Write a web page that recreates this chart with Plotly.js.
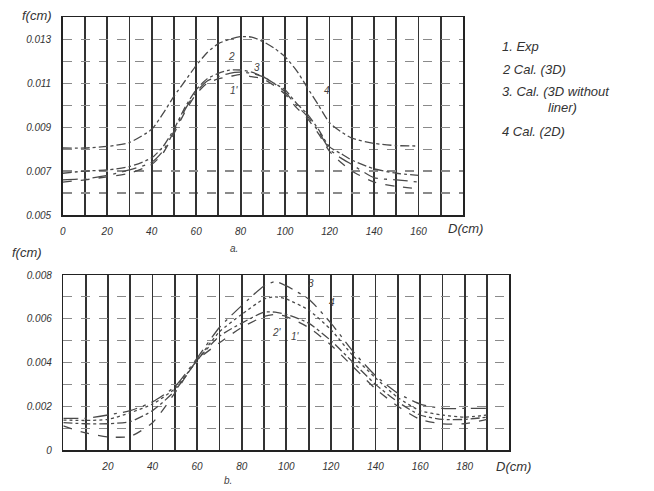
<!DOCTYPE html>
<html>
<head>
<meta charset="utf-8">
<script src="https://cdn.plot.ly/plotly-3.0.1.min.js"></script>
<style>
html,body{margin:0;padding:0;background:#fff;}
#chart{width:654px;height:491px;}
</style>
</head>
<body>
<div id="chart"></div>
<script>
// ---- Panel a (top) ----
const xTop = [0,10,20,30,40,45,50,55,60,65,70,75,80,85,90,95,100,105,110,115,120,125,130,140,150,160];
const topExp = [0.0065,0.0066,0.00674,0.0069,0.0073,0.0078,0.0087,0.0097,0.0105,0.0110,0.0112,0.0113,0.0114,0.0113,0.0112,0.0109,0.0105,0.0099,0.0094,0.0087,0.0079,0.0074,0.0070,0.0065,0.0063,0.0062];
const top3D = [0.0069,0.0070,0.00705,0.0072,0.0076,0.0081,0.0089,0.0099,0.0107,0.0112,0.01145,0.0116,0.0116,0.0115,0.0113,0.0110,0.0107,0.0101,0.0096,0.0089,0.0081,0.0078,0.0075,0.0071,0.0069,0.0068];
const top3DNoLiner = [0.0066,0.00665,0.0068,0.00705,0.0074,0.0079,0.0088,0.0098,0.0106,0.0111,0.0113,0.01145,0.0115,0.01145,0.0113,0.0110,0.0106,0.0100,0.0095,0.0088,0.0080,0.0076,0.0073,0.0067,0.0066,0.0065];
const top2D = [0.00805,0.00805,0.00812,0.0083,0.0089,0.0096,0.0104,0.0111,0.0118,0.0124,0.0128,0.0130,0.01312,0.0131,0.0129,0.0126,0.0122,0.0116,0.0108,0.0100,0.0092,0.0088,0.0085,0.00826,0.00816,0.00814];
const topXTicks = [0,20,40,60,80,100,120,140,160];
const topYTicks = [0.005,0.007,0.009,0.011,0.013];
const topYText = ['0.005','0.007','0.009','0.011','0.013'];

// ---- Panel b (bottom) ----
const xBot = [0,10,20,30,40,50,60,70,80,90,95,100,110,120,130,140,150,160,170,180,190];
const botExp = [0.0011,0.00078,0.0006,0.00062,0.00125,0.0026,0.0041,0.0049,0.0056,0.0061,0.0062,0.0061,0.0056,0.0048,0.0038,0.0028,0.0020,0.0014,0.0012,0.0012,0.0014];
const bot3D = [0.00125,0.0012,0.0012,0.0013,0.0018,0.0027,0.0041,0.0052,0.0058,0.0063,0.0063,0.0062,0.0058,0.0050,0.0040,0.0030,0.0022,0.0016,0.0014,0.0014,0.0015];
const bot3DNoLiner = [0.00145,0.00145,0.0016,0.0018,0.0022,0.0029,0.0042,0.0056,0.0066,0.0075,0.0077,0.0075,0.0069,0.0058,0.0045,0.0034,0.0026,0.0021,0.0019,0.0019,0.0019];
const bot2D = [0.00137,0.00135,0.0014,0.0017,0.0021,0.0028,0.0041,0.0054,0.0062,0.0069,0.0070,0.0069,0.0064,0.0055,0.0043,0.0033,0.0024,0.0018,0.0016,0.0015,0.0016];
const botXTicks = [20,40,60,80,100,120,140,160,180];
const botYTicks = [0,0.002,0.004,0.006,0.008];
const botYText = ['0','0.002','0.004','0.006','0.008'];

const legendLines = ['1. Exp','2 Cal. (3D)','3. Cal. (3D without','liner)','4 Cal. (2D)'];

const lineCol = '#4a4a4a';
function tr(x,y,dash,xa,ya){
  return {x:x,y:y,type:'scatter',mode:'lines',xaxis:xa,yaxis:ya,
    line:{color:lineCol,width:1.3,dash:dash,shape:'spline',smoothing:0.6},
    hoverinfo:'skip',showlegend:false};
}
const data = [
  tr(xTop,topExp,'dash','x','y'),
  tr(xTop,top3D,'dashdot','x','y'),
  tr(xTop,top3DNoLiner,'longdashdot','x','y'),
  tr(xTop,top2D,'dashdot','x','y'),
  tr(xBot,botExp,'dash','x2','y2'),
  tr(xBot,bot3D,'dashdot','x2','y2'),
  tr(xBot,bot3DNoLiner,'longdashdot','x2','y2'),
  tr(xBot,bot2D,'dot','x2','y2')
];

const tickFont = {family:'Liberation Sans, Arial, sans-serif',size:10,color:'#333',style:'italic'};
const vCol = '#333';
function xAxis(domain,range,ticks,anchor){
  return {domain:domain,range:range,anchor:anchor,tickmode:'array',tickvals:ticks,ticktext:ticks.map(String),
    showgrid:true,gridcolor:vCol,gridwidth:1.8,zeroline:false,
    showline:true,mirror:true,linecolor:'#222',linewidth:1.5,ticks:'',
    tickfont:tickFont,ticklabelstandoff:6,
    minor:{tickmode:'linear',tick0:0,dtick:10,showgrid:true,gridcolor:vCol,gridwidth:1.8,ticks:''}};
}
function yAxis(domain,range,ticks,text,anchor){
  return {domain:domain,range:range,anchor:anchor,tickmode:'array',tickvals:ticks,ticktext:text,
    showgrid:true,gridcolor:'#8a8a8a',gridwidth:1.2,griddash:'dash',zeroline:false,
    showline:true,mirror:true,linecolor:'#222',linewidth:1.5,ticks:'',
    tickfont:tickFont,ticklabelstandoff:8,
    minor:{tickmode:'linear',tick0:0,dtick:0.001,showgrid:true,gridcolor:'#8a8a8a',gridwidth:1.2,griddash:'dash',ticks:''}};
}

const hand = {family:'Liberation Sans, Arial, sans-serif',size:13,color:'#333',style:'italic'};
const small = {family:'Liberation Sans, Arial, sans-serif',size:10,color:'#444',style:'italic'};
function pa(text,px,py,font,xanchor){
  return {text:text,xref:'paper',yref:'paper',x:px/654,y:1-py/491,showarrow:false,
    font:font,xanchor:xanchor||'left',yanchor:'middle'};
}
const annotations = [
  pa('f(cm)',20,16,hand),
  pa('f(cm)',10,253,hand),
  pa('D(cm)',446,228,hand),
  pa('D(cm)',494,466,hand),
  pa('a.',228,248,small),
  pa('b.',222,480,small),
  pa(legendLines[0],500,46,hand),
  pa(legendLines[1],500,69,hand),
  pa(legendLines[2],500,92,hand),
  pa(legendLines[3],546,108,hand),
  pa(legendLines[4],500,131,hand),
  pa('2',226,56,small),
  pa('3',252,67,small),
  pa("1'",228,91,small),
  pa('4',322,91,small),
  pa('3',306,283,small),
  pa('4',327,302,small),
  pa("2'",270,332,small),
  pa("1'",289,336,small)
];

const layout = {
  width:654,height:491,margin:{l:0,r:0,t:0,b:0},
  paper_bgcolor:'#fff',plot_bgcolor:'#fff',showlegend:false,
  xaxis:xAxis([62.7/654,463/654],[0,180],topXTicks,'y'),
  yaxis:yAxis([1-215/491,1-17.3/491],[0.005,0.014],topYTicks,topYText,'x'),
  xaxis2:xAxis([63.3/654,509.3/654],[0,200],botXTicks,'y2'),
  yaxis2:yAxis([1-450/491,1-275/491],[0,0.008],botYTicks,botYText,'x2'),
  annotations:annotations
};
Plotly.newPlot('chart',data,layout,{staticPlot:true,displayModeBar:false});
</script>
</body>
</html>
